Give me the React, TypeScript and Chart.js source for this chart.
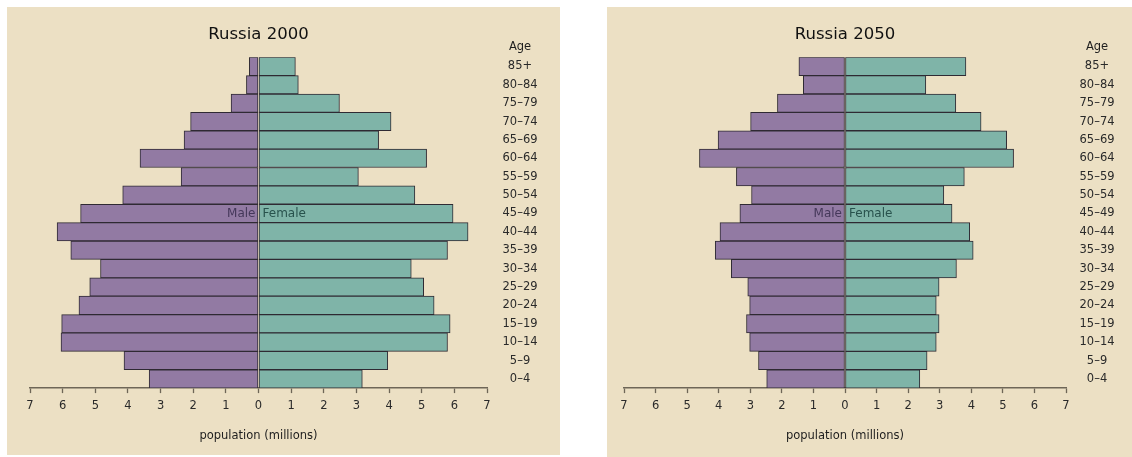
import React, { useEffect, useRef } from "react";
import { Chart, registerables } from "chart.js";

Chart.register(...registerables);

const ageGroups = ["85+", "80–84", "75–79", "70–74", "65–69", "60–64", "55–59", "50–54", "45–49", "40–44", "35–39", "30–34", "25–29", "20–24", "15–19", "10–14", "5–9", "0–4"];

const male2000 = [0.28, 0.37, 0.84, 2.08, 2.28, 3.63, 2.37, 4.16, 5.45, 6.17, 5.75, 4.84, 5.17, 5.5, 6.03, 6.05, 4.12, 3.35];
const female2000 = [1.13, 1.22, 2.48, 4.06, 3.68, 5.15, 3.06, 4.79, 5.96, 6.42, 5.79, 4.68, 5.06, 5.38, 5.87, 5.79, 3.96, 3.18];

const male2050 = [1.46, 1.32, 2.14, 2.99, 4.02, 4.61, 3.44, 2.96, 3.33, 3.96, 4.11, 3.6, 3.08, 3.02, 3.12, 3.02, 2.74, 2.48];
const female2050 = [3.83, 2.56, 3.51, 4.31, 5.12, 5.34, 3.78, 3.13, 3.39, 3.95, 4.06, 3.53, 2.98, 2.89, 2.98, 2.89, 2.6, 2.37];

const FONT = "'DejaVu Sans', 'Liberation Sans', sans-serif";
const BEIGE = "#ECE0C4";
const PURPLE = "#927AA3";
const TEAL = "#7FB4A8";
const EDGE = "#2f2a33";

type PyramidProps = {
  title: string;
  male: number[];
  female: number[];
  width: number;
  height: number;
  padLeft: number;
  axisWidth: number;
  labelPad: number;
};

function Pyramid({ title, male, female, width, height, padLeft, axisWidth, labelPad }: PyramidProps) {
  const ref = useRef<HTMLCanvasElement | null>(null);

  useEffect(() => {
    if (!ref.current) return;
    const annot = {
      id: "annot",
      afterDraw(chart: any) {
        const ctx = chart.ctx;
        const xs = chart.scales.x;
        const ys = chart.scales.y;
        ctx.save();
        ctx.font = `11.5px ${FONT}`;
        let widest = 0;
        ageGroups.forEach((a) => {
          widest = Math.max(widest, ctx.measureText(a).width);
        });
        const cx = ys.left + labelPad + widest / 2;
        ctx.fillStyle = "#1e1e1e";
        ctx.textAlign = "center";
        ctx.textBaseline = "middle";
        ctx.fillText("Age", cx, ys.top - 10);
        const zero = xs.getPixelForValue(0);
        const yRow = ys.getPixelForValue(ageGroups.indexOf("45–49"));
        ctx.font = `12px ${FONT}`;
        ctx.textAlign = "right";
        ctx.fillStyle = "#45385a";
        ctx.fillText("Male", zero - 3, yRow);
        ctx.textAlign = "left";
        ctx.fillStyle = "#28524d";
        ctx.fillText("Female", zero + 4, yRow);
        ctx.restore();
      },
    };
    const chart = new Chart(ref.current, {
      type: "bar",
      data: {
        labels: ageGroups,
        datasets: [
          {
            label: "Male",
            data: male.map((v) => -v),
            backgroundColor: PURPLE,
            borderColor: EDGE,
            borderWidth: 1,
            borderSkipped: false,
            barPercentage: 1,
            categoryPercentage: 1,
          },
          {
            label: "Female",
            data: female,
            backgroundColor: TEAL,
            borderColor: EDGE,
            borderWidth: 1,
            borderSkipped: false,
            barPercentage: 1,
            categoryPercentage: 1,
          },
        ],
      },
      options: {
        indexAxis: "y",
        responsive: false,
        animation: false,
        events: [],
        layout: { padding: { left: padLeft, right: 0, top: 0, bottom: 0 } },
        plugins: {
          legend: { display: false },
          tooltip: { enabled: false },
          title: {
            display: true,
            text: title,
            fullSize: false,
            color: "#111",
            font: { family: FONT, size: 16.5, weight: "normal", lineHeight: 1.2 },
            padding: { top: 18, bottom: 12.4 },
          },
        },
        scales: {
          x: {
            type: "linear",
            min: -7,
            max: 7,
            stacked: true,
            position: "bottom",
            grid: {
              display: true,
              drawOnChartArea: false,
              drawTicks: true,
              tickLength: 5,
              tickWidth: 1.3,
              tickColor: "#6e6657",
            },
            border: { display: true, color: "#6e6657", width: 1.5 },
            ticks: {
              stepSize: 1,
              padding: 6,
              color: "#2a2a2a",
              font: { family: FONT, size: 11.5, lineHeight: 1.2 },
              callback: (v: any) => String(Math.abs(Number(v))),
            },
            title: {
              display: true,
              text: "population (millions)",
              color: "#1e1e1e",
              font: { family: FONT, size: 11.5, lineHeight: 1.2 },
              padding: { top: 10.2, bottom: 12.1 },
            },
          },
          y: {
            type: "category",
            position: "right",
            stacked: true,
            grid: { display: false, drawTicks: false, tickLength: 0 },
            border: { display: false },
            ticks: {
              crossAlign: "center",
              padding: labelPad,
              color: "#2a2a2a",
              font: { family: FONT, size: 11.5 },
            },
            afterFit: (scale: any) => {
              scale.width = axisWidth;
            },
          },
        },
      },
      plugins: [annot],
    } as any);
    return () => chart.destroy();
  }, []);

  return <canvas ref={ref} width={width} height={height} style={{ display: "block", width, height }} />;
}

export default function App() {
  return (
    <div style={{ position: "fixed", left: 0, top: 0, width: 1132, height: 457, background: "#fff", overflow: "hidden" }}>
      <div style={{ position: "absolute", left: 7, top: 7, width: 553, height: 448, background: BEIGE }}>
        <Pyramid title="Russia 2000" male={male2000} female={female2000} width={553} height={448} padLeft={23} axisWidth={73} labelPad={15.5} />
      </div>
      <div style={{ position: "absolute", left: 607, top: 7, width: 525, height: 450, background: BEIGE }}>
        <Pyramid title="Russia 2050" male={male2050} female={female2050} width={525} height={448} padLeft={17} axisWidth={66} labelPad={13.5} />
      </div>
    </div>
  );
}
